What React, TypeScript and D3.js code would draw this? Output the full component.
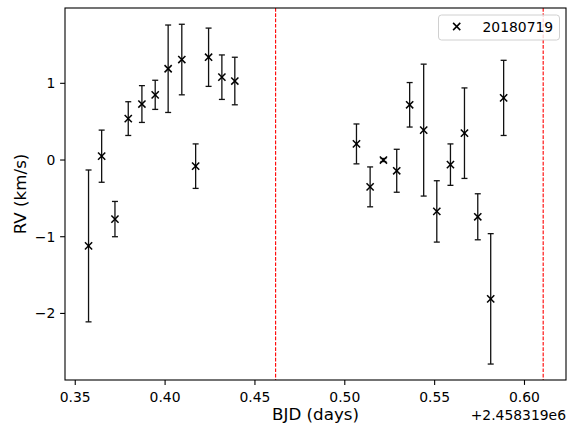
import React from "react";
import * as d3 from "d3";

// BJD - 2458319 (days)
const bjd = [0.3574, 0.3647, 0.3721, 0.3795, 0.3871, 0.3945, 0.4017, 0.4093, 0.4170, 0.4242, 0.4316, 0.4388,
  0.5065, 0.5141, 0.5215, 0.5289, 0.5361, 0.5439, 0.5512, 0.5588, 0.5666, 0.5740, 0.5812, 0.5884];
const rv = [-1.12, 0.05, -0.77, 0.54, 0.73, 0.85, 1.19, 1.31, -0.08, 1.34, 1.08, 1.03,
  0.21, -0.35, 0.0, -0.14, 0.72, 0.39, -0.67, -0.06, 0.35, -0.74, -1.81, 0.81];
const rvErr = [0.99, 0.34, 0.23, 0.22, 0.24, 0.19, 0.57, 0.46, 0.29, 0.38, 0.29, 0.31,
  0.26, 0.26, 0.02, 0.28, 0.29, 0.86, 0.40, 0.27, 0.59, 0.30, 0.85, 0.49];
const vLines = [0.4615, 0.6104];
const xTicks = [0.35, 0.40, 0.45, 0.50, 0.55, 0.60];
const yTicks = [1, 0, -1, -2];
const legendLabel = "20180719";
const xLabel = "BJD (days)";
const yLabel = "RV (km/s)";
const offsetText = "+2.458319e6";

export default function App() {
  const W = 568, H = 426;
  const left = 65, right = 566, top = 8, bottom = 380;
  const x = d3.scaleLinear().domain([0.3443, 0.6231]).range([left, right]);
  const y = d3.scaleLinear().domain([-2.868, 1.982]).range([bottom, top]);
  const font = "DejaVu Sans, sans-serif";
  const fs = 13.9;
  const fl = 16.7;
  const cap = 3;
  const m = 3.6;
  const fmtY = (v: number) => (v < 0 ? "\u2212" + Math.abs(v) : String(v));
  return (
    <svg width={W} height={H} style={{ position: "absolute", left: 0, top: 0 }} fontFamily={font}>
      <rect x={0} y={0} width={W} height={H} fill="#fff" />
      {/* vertical red dashed lines */}
      {vLines.map((v, i) => (
        <line key={"v" + i} x1={x(v)} x2={x(v)} y1={top} y2={bottom} stroke="#ff0000" strokeWidth={1.1} strokeDasharray="3.7,1.6" />
      ))}
      {/* error bars */}
      {bjd.map((t, i) => {
        const cx = x(t);
        const y1 = y(rv[i] + rvErr[i]);
        const y2 = y(rv[i] - rvErr[i]);
        return (
          <g key={"e" + i} stroke="#111" strokeWidth={1.3}>
            <line x1={cx} x2={cx} y1={y1} y2={y2} />
            <line x1={cx - cap} x2={cx + cap} y1={y1} y2={y1} />
            <line x1={cx - cap} x2={cx + cap} y1={y2} y2={y2} />
          </g>
        );
      })}
      {/* markers */}
      {bjd.map((t, i) => {
        const cx = x(t), cy = y(rv[i]);
        return (
          <g key={"m" + i} stroke="#000" strokeWidth={1.5}>
            <line x1={cx - m} x2={cx + m} y1={cy - m} y2={cy + m} />
            <line x1={cx - m} x2={cx + m} y1={cy + m} y2={cy - m} />
          </g>
        );
      })}
      {/* frame */}
      <rect x={left} y={top} width={right - left} height={bottom - top} fill="none" stroke="#000" strokeWidth={1.1} />
      {/* x ticks */}
      {xTicks.map((t) => (
        <g key={"xt" + t}>
          <line x1={x(t)} x2={x(t)} y1={bottom} y2={bottom + 4.9} stroke="#000" strokeWidth={1.1} />
          <text x={x(t)} y={bottom + 22.3} textAnchor="middle" fontSize={fs} fill="#000">{t.toFixed(2)}</text>
        </g>
      ))}
      {/* y ticks */}
      {yTicks.map((t) => (
        <g key={"yt" + t}>
          <line x1={left} x2={left - 4.9} y1={y(t)} y2={y(t)} stroke="#000" strokeWidth={1.1} />
          <text x={left - 9.7} y={y(t) + 5} textAnchor="end" fontSize={fs} fill="#000">{fmtY(t)}</text>
        </g>
      ))}
      <text x={(left + right) / 2} y={420} textAnchor="middle" fontSize={fl} fill="#000">{xLabel}</text>
      <text x={right} y={420} textAnchor="end" fontSize={fs} fill="#000">{offsetText}</text>
      <text transform={`translate(26,${(top + bottom) / 2}) rotate(-90)`} textAnchor="middle" fontSize={fl} fill="#000">{yLabel}</text>
      {/* legend */}
      <g>
        <rect x={438.5} y={15} width={121} height={25} rx={3} fill="#fff" fillOpacity={0.8} stroke="#d0d0d0" strokeWidth={1} />
        <g stroke="#000" strokeWidth={1.5}>
          <line x1={456.7 - m} x2={456.7 + m} y1={26.5 - m} y2={26.5 + m} />
          <line x1={456.7 - m} x2={456.7 + m} y1={26.5 + m} y2={26.5 - m} />
        </g>
        <text x={482.5} y={31.5} fontSize={fs} fill="#000">{legendLabel}</text>
      </g>
    </svg>
  );
}
